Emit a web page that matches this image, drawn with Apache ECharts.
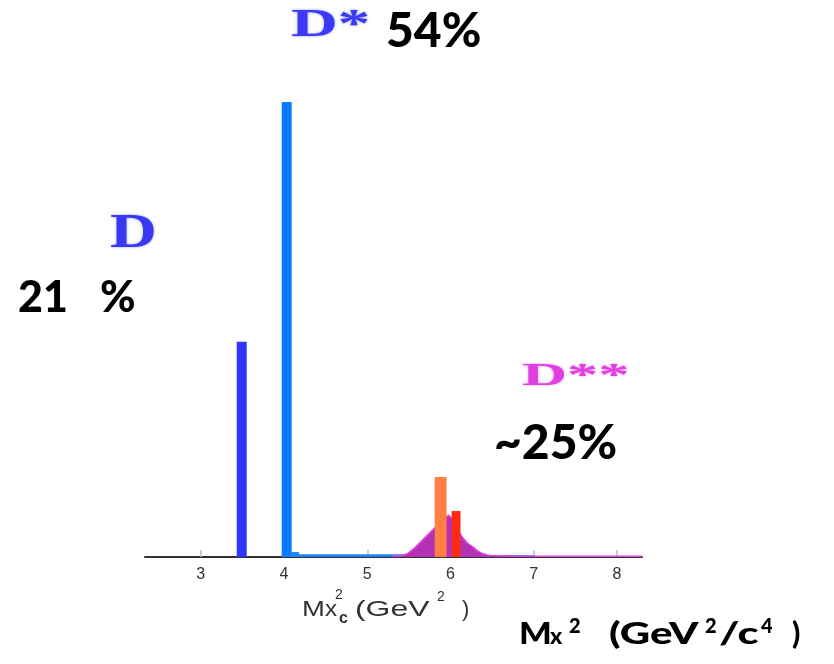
<!DOCTYPE html>
<html>
<head>
<meta charset="utf-8">
<script src="https://cdn.jsdelivr.net/npm/echarts@6/dist/echarts.min.js"></script>
<style>
  html, body { margin: 0; padding: 0; background: #ffffff; }
  #chart { width: 834px; height: 664px; }
</style>
</head>
<body>
<div id="chart"></div>
<script>
// Mx^2 axis ticks (GeV^2)
const xTicks = [3, 4, 5, 6, 7, 8];

// Narrow resonances as histogram bins: low edge, high edge, height (D* peak = 100)
const peakNames = ['D', 'D*', 'D1', 'D2*'];
const peakLow = [3.432, 3.972, 5.810, 6.013];
const peakHigh = [3.552, 4.092, 5.953, 6.120];
const peakHeight = [47.3, 100, 17.6, 10.1];

// Low tail to the right of the D* line
const tailX = [4.09, 4.18, 4.18, 5.30, 6.20, 7.00, 7.05];
const tailY = [1.1, 1.1, 0.6, 0.6, 0.5, 0.4, 0.0];

// Broad D** distribution
const broadX = [5.30, 5.40, 5.48, 5.57, 5.63, 5.69, 5.75, 5.81, 5.87, 5.93, 5.98, 6.02,
                6.08, 6.14, 6.20, 6.27, 6.33, 6.39, 6.47, 6.59, 6.80, 7.10, 7.50, 8.00, 8.30];
const broadY = [0.2, 0.3, 0.7, 2.0, 3.1, 4.2, 5.3, 6.4, 7.5, 8.6, 9.2, 8.4,
                6.2, 4.4, 3.1, 2.2, 1.3, 0.7, 0.35, 0.25, 0.2, 0.15, 0.15, 0.15, 0.15];

// Branching fractions written next to each state
const stateLabels = ['D', 'D*', 'D**'];
const fractionLabels = ['21', '%', '54%', '~25%'];

const peakColors = ['#3434ff', '#0a7bff', '#ff7f45', '#ff2a14'];
const comic = 'Lato';
const serif = 'Liberation Serif';
const sans = 'Liberation Sans';

function txt(text, x, y, size, opts) {
  opts = opts || {};
  return {
    type: 'text',
    x: x, y: y,
    scaleX: opts.scaleX || 1,
    z: 100,
    style: {
      text: text,
      fontSize: size,
      fontFamily: opts.family || comic,
      fontWeight: opts.weight || 900,
      fill: opts.color || '#000',
      verticalAlign: 'top',
      align: 'left',
      textShadowColor: opts.shadow || 'transparent',
      textShadowBlur: opts.shadow ? 3 : 0
    }
  };
}

const chart = echarts.init(document.getElementById('chart'), null, { renderer: 'canvas' });

const gray = { family: sans, weight: 'normal', color: '#333' };

const option = {
  backgroundColor: '#ffffff',
  animation: false,
  grid: { left: 145, right: 192, top: 102, bottom: 107, containLabel: false },
  xAxis: {
    type: 'value',
    min: 2.33,
    max: 8.3,
    axisLine: { show: true, lineStyle: { color: '#333', width: 2 } },
    axisTick: { show: true, inside: true, length: 7, customValues: xTicks,
                lineStyle: { color: '#bbbbbb', width: 1.5 } },
    axisLabel: { customValues: xTicks, fontSize: 16, color: '#333', fontFamily: sans, margin: 10 },
    splitLine: { show: false }
  },
  yAxis: { type: 'value', min: 0, max: 100, show: false },
  graphic: [
    // state names
    txt(stateLabels[1], 291, 6, 40, { family: serif, weight: 'bold', color: '#3a3af5', scaleX: 1.62, shadow: 'rgba(90,90,255,0.6)' }),
    txt(stateLabels[0], 110, 211, 48, { family: serif, weight: 'bold', color: '#3838f0', scaleX: 1.35, shadow: 'rgba(90,90,255,0.6)' }),
    txt(stateLabels[2], 522, 361, 32, { family: serif, weight: 'bold', color: '#e040e0', scaleX: 1.95, shadow: 'rgba(230,90,230,0.6)' }),

    // fractions
    txt(fractionLabels[2], 386, 8, 48),
    txt(fractionLabels[0], 18, 277, 43),
    txt(fractionLabels[1], 100, 277, 43),
    txt(fractionLabels[3], 494, 420, 48),

    // large axis title  Mx^2 (GeV^2/c^4)
    txt('M', 519, 619, 30, { scaleX: 1.15 }),
    txt('x', 550, 625, 23),
    txt('2', 569, 617, 20),
    txt('(GeV', 609, 619, 30, { scaleX: 1.4 }),
    txt('2', 705, 617, 20),
    txt('/c', 719, 619, 30, { scaleX: 1.45 }),
    txt('4', 761, 617, 20),
    txt(')', 792, 619, 30),

    // small axis title  Mx_c^2 (GeV^2)
    txt('M', 302, 599, 22, Object.assign({ scaleX: 1.25 }, gray)),
    txt('x', 325, 599, 22, Object.assign({ scaleX: 1.1 }, gray)),
    txt('2', 335, 588, 14, gray),
    txt('c', 339, 611, 16, { family: sans, weight: 'bold', color: '#333' }),
    txt('(GeV', 355, 599, 22, Object.assign({ scaleX: 1.45 }, gray)),
    txt('2', 437, 590, 14, gray),
    txt(')', 462, 599, 22, gray)
  ],
  series: [
    {
      name: 'D* tail',
      type: 'line',
      z: 2,
      symbol: 'none',
      silent: true,
      data: tailX.map((x, i) => [x, tailY[i]]),
      lineStyle: { width: 0 },
      areaStyle: { color: '#1a86ff', opacity: 1 }
    },
    {
      name: 'D**',
      type: 'line',
      z: 3,
      symbol: 'none',
      silent: true,
      data: broadX.map((x, i) => [x, broadY[i]]),
      lineStyle: { color: '#e048e0', width: 1.5 },
      areaStyle: { color: '#b430b4', opacity: 1 }
    },
    {
      name: 'resonances',
      type: 'custom',
      z: 4,
      silent: true,
      encode: { x: [0, 1], y: 2 },
      data: peakLow.map((lo, i) => ({ name: peakNames[i], value: [lo, peakHigh[i], peakHeight[i]] })),
      renderItem: function (params, api) {
        const a = api.coord([api.value(0), api.value(2)]);
        const b = api.coord([api.value(1), 0]);
        return {
          type: 'rect',
          shape: { x: a[0], y: a[1], width: b[0] - a[0], height: b[1] - a[1] },
          style: { fill: peakColors[params.dataIndex] }
        };
      }
    }
  ]
};

chart.setOption(option);
</script>
</body>
</html>
